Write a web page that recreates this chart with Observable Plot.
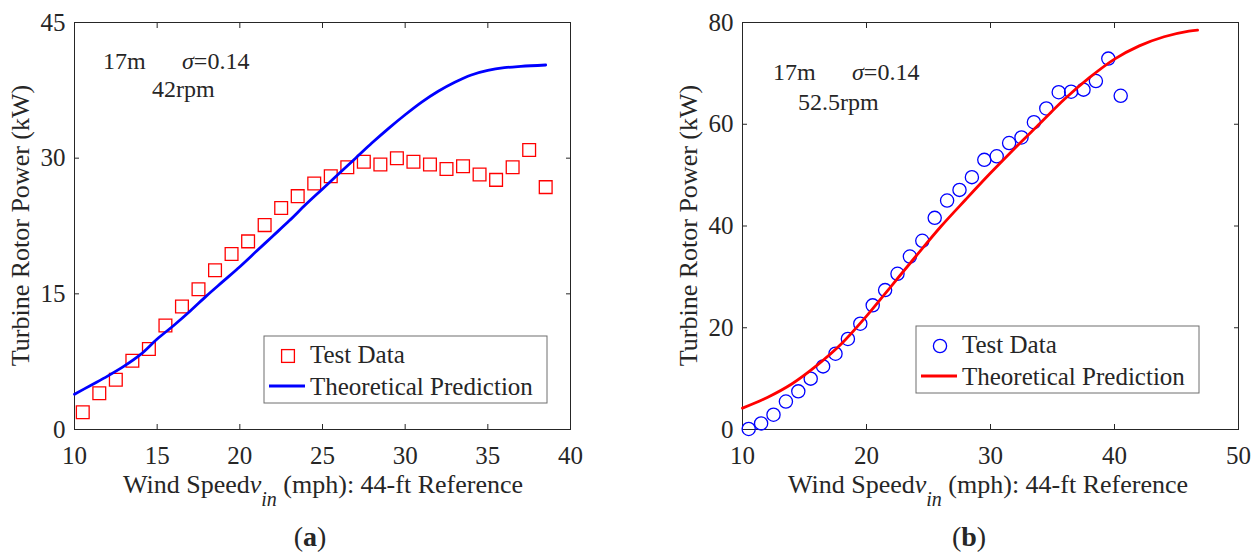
<!DOCTYPE html>
<html>
<head>
<meta charset="utf-8">
<script src="https://cdn.jsdelivr.net/npm/d3@7"></script>
<script src="https://cdn.jsdelivr.net/npm/@observablehq/plot@0.6"></script>
<style>
  html, body { margin: 0; padding: 0; background: #fff; }
  #wrap { position: relative; width: 1258px; height: 554px; background: #fff; overflow: hidden; font-family: "Liberation Serif", "Times New Roman", serif; }
  .panel { position: absolute; top: 0; }
  #overlay { position: absolute; left: 0; top: 0; pointer-events: none; }
  #overlay text { font-family: "Liberation Serif", "Times New Roman", serif; fill: #262626; }
</style>
</head>
<body>
<div id="wrap">
  <div id="panelA" class="panel" style="left:0px"></div>
  <div id="panelB" class="panel" style="left:668px"></div>
  <svg id="overlay" width="1258" height="554" xmlns="http://www.w3.org/2000/svg"></svg>
</div>
<script>
// ---------- Panel (a): 42 rpm ----------
const windA  = [10.5, 11.5, 12.5, 13.5, 14.5, 15.5, 16.5, 17.5, 18.5, 19.5, 20.5, 21.5, 22.5, 23.5, 24.5, 25.5, 26.5, 27.5, 28.5, 29.5, 30.5, 31.5, 32.5, 33.5, 34.5, 35.5, 36.5, 37.5, 38.5];
const powerA = [1.9, 4.0, 5.5, 7.6, 8.9, 11.5, 13.6, 15.5, 17.6, 19.4, 20.8, 22.6, 24.5, 25.8, 27.2, 28.0, 29.0, 29.6, 29.3, 30.0, 29.6, 29.3, 28.8, 29.1, 28.2, 27.6, 29.0, 30.9, 26.8];
const theoWindA  = [10, 11, 12, 13, 14, 15, 16, 17, 18, 19, 20, 21, 22, 23, 24, 25, 26, 27, 28, 29, 30, 31, 32, 33, 34, 35, 36, 37, 38.5];
const theoPowerA = [3.9, 4.9, 5.9, 7.0, 8.3, 10.0, 11.5, 13.1, 14.8, 16.4, 18.0, 19.7, 21.4, 23.1, 24.9, 26.6, 28.3, 30.0, 31.7, 33.3, 34.8, 36.2, 37.4, 38.4, 39.2, 39.7, 40.0, 40.15, 40.3];
const xTicksA = [10, 15, 20, 25, 30, 35, 40];
const yTicksA = [0, 15, 30, 45];

// ---------- Panel (b): 52.5 rpm ----------
const windB  = [10.5, 11.5, 12.5, 13.5, 14.5, 15.5, 16.5, 17.5, 18.5, 19.5, 20.5, 21.5, 22.5, 23.5, 24.5, 25.5, 26.5, 27.5, 28.5, 29.5, 30.5, 31.5, 32.5, 33.5, 34.5, 35.5, 36.5, 37.5, 38.5, 39.5, 40.5];
const powerB = [0.1, 1.2, 2.9, 5.5, 7.5, 10.0, 12.4, 14.9, 17.8, 20.8, 24.4, 27.4, 30.6, 34.0, 37.1, 41.6, 45.0, 47.1, 49.6, 53.0, 53.7, 56.3, 57.4, 60.4, 63.1, 66.3, 66.4, 66.8, 68.5, 72.9, 65.6];
const theoWindB  = [10, 12, 14, 16, 18, 20, 22, 24, 26, 28, 30, 32, 34, 36, 38, 40, 42, 44, 46, 46.7];
const theoPowerB = [4.2, 6.3, 9.0, 12.6, 16.9, 22.3, 28.2, 34.1, 39.9, 45.2, 50.4, 55.4, 60.2, 65.0, 69.2, 72.8, 75.4, 77.2, 78.3, 78.5];
const xTicksB = [10, 20, 30, 40, 50];
const yTicksB = [0, 20, 40, 60, 80];

const testA = windA.map((w, i) => ({wind: w, power: powerA[i]}));
const theoA = theoWindA.map((w, i) => ({wind: w, power: theoPowerA[i]}));
const testB = windB.map((w, i) => ({wind: w, power: powerB[i]}));
const theoB = theoWindB.map((w, i) => ({wind: w, power: theoPowerB[i]}));

const AX = "#262626";

function panel({test, theo, xDomain, yDomain, xTicks, yTicks, width, marginRight, markerSymbol, markerR, markerColor, lineColor}) {
  return Plot.plot({
    width, height: 470,
    marginLeft: 74, marginRight, marginTop: 22, marginBottom: 41,
    style: {fontFamily: "'Liberation Serif', 'Times New Roman', serif", fontSize: "25px", color: AX, background: "transparent", overflow: "visible"},
    x: {domain: xDomain, ticks: xTicks},
    y: {domain: yDomain, ticks: yTicks},
    marks: [
      Plot.frame({stroke: AX, strokeWidth: 1}),
      // tick labels
      Plot.axisX(xTicks, {anchor: "bottom", tickSize: 0, tickPadding: 17, label: null, fontSize: 25, fill: AX}),
      Plot.axisY(yTicks, {anchor: "left", tickSize: 0, tickPadding: 9, label: null, fontSize: 25, fill: AX}),
      // inward ticks on all four sides
      Plot.axisX(xTicks, {anchor: "bottom", tickSize: -5, tickFormat: () => "", label: null, stroke: AX}),
      Plot.axisX(xTicks, {anchor: "top", tickSize: -5, tickFormat: () => "", label: null, stroke: AX}),
      Plot.axisY(yTicks, {anchor: "left", tickSize: -5, tickFormat: () => "", label: null, stroke: AX}),
      Plot.axisY(yTicks, {anchor: "right", tickSize: -5, tickFormat: () => "", label: null, stroke: AX}),
      // data
      Plot.dot(test, {x: "wind", y: "power", symbol: markerSymbol, r: markerR, stroke: markerColor, strokeWidth: 1.3, fill: "none"}),
      Plot.line(theo, {x: "wind", y: "power", stroke: lineColor, strokeWidth: 2.8, curve: "catmull-rom"})
    ]
  });
}

document.getElementById("panelA").append(panel({
  test: testA, theo: theoA, xDomain: [10, 40], yDomain: [0, 45], xTicks: xTicksA, yTicks: yTicksA,
  width: 600, marginRight: 30, markerSymbol: "square", markerR: 7.2, markerColor: "#ff0000", lineColor: "#0000ff"
}));
document.getElementById("panelB").append(panel({
  test: testB, theo: theoB, xDomain: [10, 50], yDomain: [0, 80], xTicks: xTicksB, yTicks: yTicksB,
  width: 590, marginRight: 20, markerSymbol: "circle", markerR: 6.6, markerColor: "#0000ff", lineColor: "#ff0000"
}));

// ---------- Text overlay: axis titles, annotations, legends, captions ----------
const ov = d3.select("#overlay");

function xTitle(cx) {
  const t = ov.append("text").attr("x", cx).attr("y", 493).attr("text-anchor", "middle").attr("font-size", 26);
  t.append("tspan").text("Wind Speed");
  t.append("tspan").attr("font-style", "italic").text("v");
  t.append("tspan").attr("font-style", "italic").attr("font-size", 20).attr("dy", 13).text("in");
  t.append("tspan").attr("dy", -13).text(" (mph): 44-ft Reference");
}
function yTitle(bx) {
  ov.append("text").attr("transform", `translate(${bx},225.5) rotate(-90)`)
    .attr("text-anchor", "middle").attr("font-size", 26).text("Turbine Rotor Power (kW)");
}
function annot(x1, x2, y1, x3, y2, rpm) {
  ov.append("text").attr("x", x1).attr("y", y1).attr("font-size", 24).text("17m");
  const s = ov.append("text").attr("x", x2).attr("y", y1).attr("font-size", 24);
  s.append("tspan").attr("font-style", "italic").text("σ");
  s.append("tspan").text("=0.14");
  ov.append("text").attr("x", x3).attr("y", y2).attr("font-size", 24).text(rpm);
}
function legend(x0, y0, marker, mColor, lColor) {
  const g = ov.append("g");
  g.append("rect").attr("x", x0).attr("y", y0).attr("width", 283).attr("height", 67)
    .attr("fill", "#fff").attr("stroke", "#6e6e6e").attr("stroke-width", 1);
  const mx = x0 + 24, my = y0 + 20;
  if (marker === "square") {
    g.append("rect").attr("x", mx - 6.4).attr("y", my - 6.4).attr("width", 12.8).attr("height", 12.8)
      .attr("fill", "none").attr("stroke", mColor).attr("stroke-width", 1.3);
  } else {
    g.append("circle").attr("cx", mx).attr("cy", my).attr("r", 6.6)
      .attr("fill", "none").attr("stroke", mColor).attr("stroke-width", 1.3);
  }
  g.append("line").attr("x1", x0 + 5).attr("x2", x0 + 41).attr("y1", y0 + 50).attr("y2", y0 + 50)
    .attr("stroke", lColor).attr("stroke-width", 3);
  g.append("text").attr("x", x0 + 46).attr("y", y0 + 27).attr("font-size", 25).text("Test Data");
  g.append("text").attr("x", x0 + 46).attr("y", y0 + 59).attr("font-size", 25).text("Theoretical Prediction");
}
function caption(cx, letter) {
  const t = ov.append("text").attr("x", cx).attr("y", 546).attr("text-anchor", "middle").attr("font-size", 28);
  t.append("tspan").text("(");
  t.append("tspan").attr("font-weight", "bold").text(letter);
  t.append("tspan").text(")");
}

xTitle(323); xTitle(988);
yTitle(29); yTitle(697);
annot(103, 182, 69, 152, 97, "42rpm");
annot(773, 852, 80, 798, 110, "52.5rpm");
legend(264, 336, "square", "#ff0000", "#0000ff");
legend(916, 326, "circle", "#0000ff", "#ff0000");
caption(310, "a"); caption(969, "b");
</script>
</body>
</html>
